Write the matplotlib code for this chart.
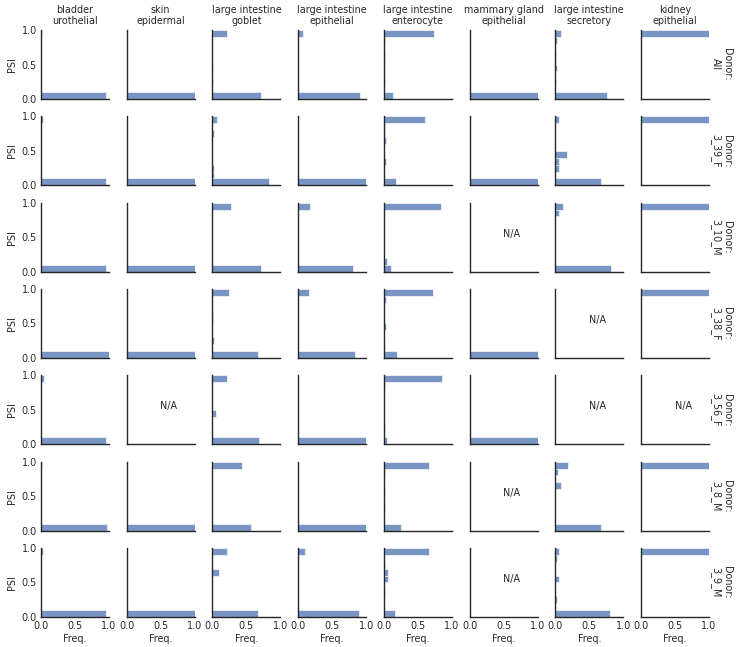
import matplotlib
matplotlib.use("Agg")
import matplotlib.pyplot as plt
import numpy as np

cell_types = ["bladder\nurothelial", "skin\nepidermal", "large intestine\ngoblet",
              "large intestine\nepithelial", "large intestine\nenterocyte",
              "mammary gland\nepithelial", "large intestine\nsecretory", "kidney\nepithelial"]
donors = ["All", "3_39_F", "3_10_M", "3_38_F", "3_56_F", "3_8_M", "3_9_M"]
bin_edges = [0.0, 0.1, 0.2, 0.3, 0.4, 0.5, 0.6, 0.7, 0.8, 0.9, 1.0]

# Frequency per PSI bin (bin 0 = 0.0-0.1 ... bin 9 = 0.9-1.0); None = N/A
freq_all = [
    [0.96, 0, 0, 0, 0, 0, 0, 0, 0, 0.02],
    [1.0, 0, 0, 0, 0, 0, 0, 0, 0, 0],
    [0.71, 0, 0.01, 0, 0.01, 0, 0, 0, 0, 0.22],
    [0.91, 0, 0, 0, 0, 0, 0, 0, 0, 0.07],
    [0.14, 0, 0.01, 0, 0, 0.02, 0.02, 0, 0.01, 0.73],
    [1.0, 0, 0, 0, 0, 0, 0, 0, 0, 0],
    [0.755, 0, 0.01, 0, 0.02, 0.01, 0.01, 0, 0.03, 0.09],
    [0, 0, 0, 0, 0, 0, 0, 0, 0, 1.0],
]
freq_3_39_F = [
    [0.955, 0, 0, 0, 0, 0, 0, 0, 0, 0.03],
    [1.0, 0, 0, 0, 0, 0, 0, 0, 0, 0],
    [0.83, 0.03, 0.03, 0, 0, 0, 0, 0.03, 0, 0.06],
    [1.0, 0, 0, 0, 0, 0, 0, 0, 0, 0],
    [0.18, 0, 0, 0.03, 0, 0, 0.03, 0.02, 0.02, 0.60],
    [1.0, 0, 0, 0, 0, 0, 0, 0, 0, 0],
    [0.67, 0, 0.05, 0.05, 0.17, 0, 0, 0, 0, 0.05],
    [0, 0, 0, 0, 0, 0, 0, 0, 0, 1.0],
]
freq_3_10_M = [
    [0.955, 0, 0, 0, 0, 0, 0, 0, 0, 0],
    [1.0, 0, 0, 0, 0, 0, 0, 0, 0, 0],
    [0.72, 0, 0, 0, 0, 0, 0, 0, 0, 0.28],
    [0.81, 0, 0, 0, 0, 0, 0, 0, 0, 0.17],
    [0.10, 0.05, 0, 0, 0, 0, 0, 0, 0, 0.84],
    None,
    [0.82, 0, 0, 0, 0, 0, 0, 0, 0.05, 0.11],
    [0, 0, 0, 0, 0, 0, 0, 0, 0, 1.0],
]
freq_3_38_F = [
    [1.0, 0, 0, 0, 0, 0, 0, 0, 0, 0],
    [1.0, 0, 0, 0, 0, 0, 0, 0, 0, 0],
    [0.67, 0, 0.03, 0, 0, 0.01, 0.01, 0, 0, 0.245],
    [0.83, 0, 0, 0, 0, 0, 0, 0, 0, 0.16],
    [0.20, 0, 0, 0, 0.03, 0, 0, 0, 0.03, 0.72],
    [1.0, 0, 0, 0, 0, 0, 0, 0, 0, 0],
    None,
    [0, 0, 0, 0, 0, 0, 0, 0, 0, 1.0],
]
freq_3_56_F = [
    [0.95, 0, 0, 0, 0, 0, 0, 0, 0, 0.04],
    None,
    [0.69, 0, 0, 0, 0.05, 0, 0, 0, 0, 0.22],
    [1.0, 0, 0, 0, 0, 0, 0, 0, 0, 0],
    [0.04, 0, 0.02, 0, 0, 0, 0, 0, 0.02, 0.85],
    [1.0, 0, 0, 0, 0, 0, 0, 0, 0, 0],
    None,
    None,
]
freq_3_8_M = [
    [0.97, 0, 0, 0, 0, 0, 0, 0, 0, 0.015],
    [1.0, 0, 0, 0, 0, 0, 0, 0, 0, 0],
    [0.56, 0, 0, 0, 0, 0, 0, 0, 0, 0.44],
    [1.0, 0, 0, 0, 0, 0, 0, 0, 0, 0],
    [0.255, 0, 0, 0.015, 0, 0.02, 0, 0, 0.02, 0.66],
    None,
    [0.67, 0, 0, 0, 0, 0, 0.09, 0, 0.045, 0.19],
    [0, 0, 0, 0, 0, 0, 0, 0, 0, 1.0],
]
freq_3_9_M = [
    [0.955, 0, 0, 0, 0, 0, 0, 0, 0, 0.03],
    [1.0, 0, 0, 0, 0, 0, 0, 0, 0, 0],
    [0.67, 0, 0, 0, 0, 0, 0.10, 0, 0, 0.22],
    [0.89, 0, 0, 0, 0, 0, 0, 0, 0, 0.10],
    [0.16, 0, 0, 0.01, 0, 0.06, 0.06, 0.01, 0, 0.67],
    None,
    [0.80, 0, 0.03, 0, 0, 0.06, 0, 0, 0.03, 0.06],
    [0, 0, 0, 0, 0, 0, 0, 0, 0, 1.0],
]
all_freqs = [freq_all, freq_3_39_F, freq_3_10_M, freq_3_38_F, freq_3_56_F, freq_3_8_M, freq_3_9_M]

bar_color = "#4C72B0"
text_color = "#262626"
plt.rcParams["font.family"] = ["DejaVu Sans"]

fig, axes = plt.subplots(len(donors), len(cell_types), figsize=(7.38, 6.47), dpi=100,
                         sharex=True, sharey=True)
fig.subplots_adjust(left=0.0556, right=0.9607, top=0.9536, bottom=0.0464,
                    wspace=0.26, hspace=0.25)

lefts = np.array(bin_edges[:-1])
heights = np.diff(bin_edges)
fs = 6.9
for r, donor in enumerate(donors):
    for c, ct in enumerate(cell_types):
        ax = axes[r, c]
        ax.set_xlim(0, 1)
        ax.set_ylim(0, 1)
        for side in ["top", "right"]:
            ax.spines[side].set_visible(False)
        for side in ["left", "bottom"]:
            ax.spines[side].set_color(text_color)
            ax.spines[side].set_linewidth(1.0)
        ax.tick_params(length=0, labelsize=fs, colors=text_color, pad=3)
        vals = all_freqs[r][c]
        if vals is None:
            ax.text(0.62, 0.55, "N/A", ha="center", va="center", fontsize=fs,
                    color=text_color, transform=ax.transAxes)
        else:
            ax.barh(lefts, vals, height=heights, align="edge", color=bar_color,
                    alpha=0.75, edgecolor="white", linewidth=0.6)
        ax.set_xticks([0, 0.5, 1.0])
        ax.set_yticks([0, 0.5, 1.0])
        ax.set_xticklabels(["0.0", "0.5", "1.0"])
        ax.set_yticklabels(["0.0", "0.5", "1.0"])
        if r == 0:
            ax.set_title(ct, fontsize=fs, color=text_color, pad=4)
        if c == 0:
            ax.set_ylabel("PSI", fontsize=fs, color=text_color, labelpad=3)
        if r == len(donors) - 1:
            ax.set_xlabel("Freq.", fontsize=fs, color=text_color, labelpad=2)
        if c == len(cell_types) - 1:
            ax.text(1.18, 0.5, "Donor:\n" + donor, rotation=270, ha="center", va="center",
                    fontsize=fs, color=text_color, transform=ax.transAxes)

fig.savefig("out.png", dpi=100)
